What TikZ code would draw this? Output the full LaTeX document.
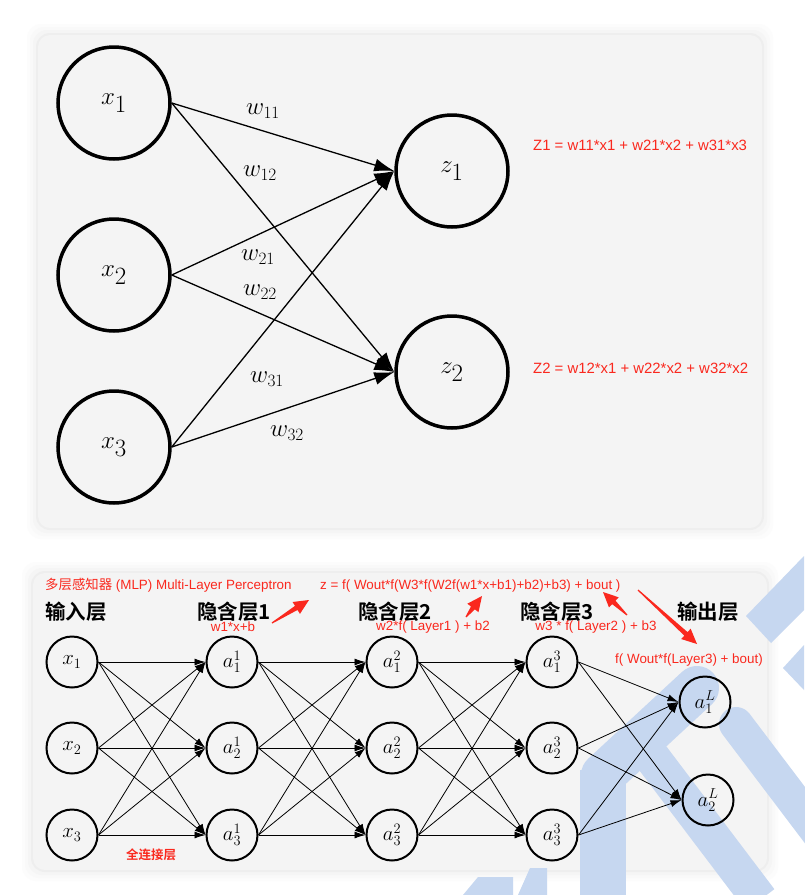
\documentclass[tikz,border=0pt]{standalone}
\usepackage{fontspec}
\setmainfont{Liberation Sans}
\newfontfamily\cjk{Noto Sans CJK SC}[BoldFont={* Bold}]
\usetikzlibrary{arrows.meta,calc}
\definecolor{redt}{RGB}{250,40,30}
\definecolor{panelc}{RGB}{244,244,244}
\definecolor{wm}{RGB}{198,215,240}
\newcommand{\myredarrow}[2]{%
  \coordinate (tc) at ($(#2)!15pt!(#1)$);
  \fill[redt] ($(#1)!0.6pt!90:(#2)$) -- ($(tc)!2.4pt!-90:(#1)$) -- ($(tc)!7pt!-90:(#1)$) -- (#2)
     -- ($(tc)!7pt!90:(#1)$) -- ($(tc)!2.4pt!90:(#1)$) -- ($(#1)!0.6pt!-90:(#2)$) -- cycle;}
\begin{document}
\begin{tikzpicture}[x=1pt,y=-1pt,
  bignode/.style={circle,draw,line width=3.5pt,minimum size=112pt,inner sep=0pt,font=\fontsize{48}{48}\selectfont},
  smallnode/.style={circle,draw,line width=2pt,minimum size=51pt,inner sep=0pt,font=\fontsize{20}{20}\selectfont},
  bigarrow/.style={line width=1.3pt,-{Latex[length=20pt,width=13pt]}},
  smallarrow/.style={line width=0.8pt,-{Latex[length=11pt,width=7pt]}},
  wlabel/.style={font=\fontsize{27}{27}\selectfont,inner sep=0pt},
  redtext/.style={text=redt,font=\fontsize{13.4}{14}\selectfont,inner sep=0pt},
  eqtext/.style={text=redt,font=\fontsize{14.9}{15}\selectfont,inner sep=0pt,anchor=west},
  header/.style={font=\cjk\bfseries\fontsize{20.5}{21}\selectfont,inner sep=0pt},
  wline/.style={draw=wm,line join=round}
]
\useasboundingbox (0,0) rectangle (804,895);
\fill[white] (0,0) rectangle (804,895);
% panels with soft shadow
\foreach \d/\g in {11/252,8/249,5/245,2/238}{
  \definecolor{shc}{RGB}{\g,\g,\g}
  \fill[shc,rounded corners=14pt] (38-\d,35-\d) rectangle (762+\d,528+\d);
  \fill[shc,rounded corners=14pt] (33-\d,573-\d) rectangle (767+\d,870+\d);
}
\fill[panelc,rounded corners=12pt] (38,35) rectangle (762,528);
\fill[panelc,rounded corners=12pt] (33,573) rectangle (767,870);

% watermark (approximate), under the drawing
\fill[wm] (804,556) -- (746,616) -- (771,643) -- (804,610) -- cycle;
\fill[wm] (804,645) -- (783,668) -- (804,690) -- cycle;
\draw[wline,line width=44pt,line cap=round] (697,688) -- (603,775);
\draw[wline,line width=46pt] (603,770) -- (603,900);
\draw[wline,line width=36pt] (645,748) -- (760,900);
\draw[wline,line width=34pt,line cap=round] (736,724) -- (820,835);
\fill[wm] (463,895) -- (478,877) -- (513,877) -- (513,895) -- cycle;
\fill[wm] (518,895) -- (530,868) -- (547,868) -- (547,895) -- cycle;

% ---------- top network ----------
\node[bignode] (x1) at (114,103) {$x_1$};
\node[bignode] (x2) at (114,275) {$x_2$};
\node[bignode] (x3) at (114,447) {$x_3$};
\node[bignode] (z1) at (452,171) {$z_1$};
\node[bignode] (z2) at (452,372) {$z_2$};
\foreach \i in {1,2,3}{
  \draw[bigarrow] (x\i.east) -- (z1.west);
  \draw[bigarrow] (x\i.east) -- (z2.west);
}
\node[wlabel] (w11) at (263,111) {$w_{11}$};
\node[wlabel] (w12) at (260,173) {$w_{12}$};
\node[wlabel] (w21) at (258,257) {$w_{21}$};
\node[wlabel] (w22) at (260,292) {$w_{22}$};
\node[wlabel] (w31) at (267,379) {$w_{31}$};
\node[wlabel] (w32) at (287,433) {$w_{32}$};
\node[eqtext] (e1) at (533,145) {Z1 = w11*x1 + w21*x2 + w31*x3};
\node[eqtext] (e2) at (533,368) {Z2 = w12*x1 + w22*x2 + w32*x2};

% ---------- bottom network ----------
\node[smallnode] (bx1) at (72,662) {$x_1$};
\node[smallnode] (bx2) at (72,748) {$x_2$};
\node[smallnode] (bx3) at (72,835) {$x_3$};
\foreach \l/\xx in {1/232,2/392,3/552}{
  \node[smallnode] (a\l1) at (\xx,662) {$a^{\l}_{1}$};
  \node[smallnode] (a\l2) at (\xx,748) {$a^{\l}_{2}$};
  \node[smallnode] (a\l3) at (\xx,835) {$a^{\l}_{3}$};
}
\node[smallnode] (aL1) at (705,702) {$a^{L}_{1}$};
\node[smallnode] (aL2) at (708,800) {$a^{L}_{2}$};
\foreach \i in {1,2,3}{
  \foreach \j in {1,2,3}{
    \draw[smallarrow] (bx\i.east) -- (a1\j.west);
    \draw[smallarrow] (a1\i.east) -- (a2\j.west);
    \draw[smallarrow] (a2\i.east) -- (a3\j.west);
  }
  \draw[smallarrow] (a3\i.east) -- (aL1.west);
  \draw[smallarrow] (a3\i.east) -- (aL2.west);
}

% texts
\node[redtext,anchor=west] (mlp) at (45,585) {{\cjk 多层感知器} (MLP) Multi-Layer Perceptron};
\node[redtext,anchor=west] (zf) at (320,586) {z = f( Wout*f(W3*f(W2f(w1*x+b1)+b2)+b3) + bout )};
\node[header,anchor=west] (h0) at (45,612) {输入层};
\node[header,anchor=west] (h1) at (197,612) {隐含层1};
\node[header,anchor=west] (h2) at (358,612) {隐含层2};
\node[header,anchor=west] (h3) at (520,612) {隐含层3};
\node[header,anchor=west] (h4) at (677,612) {输出层};
\node[redtext] (t1) at (233,627) {w1*x+b};
\node[redtext] (t2) at (433,627) {w2*f( Layer1 ) + b2};
\node[redtext] (t3) at (596,627) {w3 * f( Layer2 ) + b3};
\node[redtext] (t4) at (689,660) {f( Wout*f(Layer3) + bout)};
\node[redtext,font=\cjk\bfseries\fontsize{12.5}{13}\selectfont] (fc) at (151,855) {全连接层};

% red arrows (tapered)
\coordinate (r1a) at (272,623); \coordinate (r1b) at (309,600);
\coordinate (r2a) at (466,617); \coordinate (r2b) at (482,596);
\coordinate (r3a) at (627,615); \coordinate (r3b) at (603,592);
\coordinate (r4a) at (638,590); \coordinate (r4b) at (697,644);
\myredarrow{r1a}{r1b}
\myredarrow{r2a}{r2b}
\myredarrow{r3a}{r3b}
\myredarrow{r4a}{r4b}
\end{tikzpicture}
\end{document}
